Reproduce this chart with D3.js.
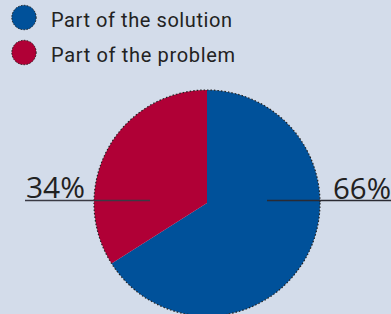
<!DOCTYPE html>
<html><head><meta charset="utf-8">
<script src="https://cdn.jsdelivr.net/npm/d3@7"></script>
<style>html,body{margin:0;padding:0;background:#d3dcea;overflow:hidden}</style>
</head><body><svg id="c" width="391" height="314"></svg>
<script>
const categories = ["Part of the solution", "Part of the problem"];
const values = [66, 34];
const colors = ["#00519a", "#b00036"];
const labels = ["66%", "34%"];

const svg = d3.select("#c");
const font = "'Open Sans', Roboto, sans-serif";
const legendFont = "Roboto, 'Open Sans', sans-serif";

// legend
const legendWidths = [181, 184];
const lg = svg.append("g");
categories.forEach((c, i) => {
  const y = 17.5 + i * 35;
  lg.append("circle").attr("cx", 24).attr("cy", y).attr("r", 12.2)
    .attr("fill", colors[i]).attr("stroke", "#222").attr("stroke-width", 1)
    .attr("stroke-dasharray", "1.5,1.5");
  lg.append("text").attr("x", 51).attr("y", y + 9).text(c)
    .attr("font-family", legendFont).attr("font-size", 20)
    .attr("textLength", legendWidths[i]).attr("lengthAdjust", "spacing")
    .attr("fill", "#222");
});

// pie
const cx = 207, cy = 203, r = 113;
const pie = d3.pie().sort(null).value(d => d)
  .startAngle(0).endAngle(2 * Math.PI);
const arcs = pie(values);
const arc = d3.arc().innerRadius(0).outerRadius(r);
const g = svg.append("g").attr("transform", `translate(${cx},${cy})`);
g.selectAll("path").data(arcs).join("path")
  .attr("d", arc).attr("fill", (d, i) => colors[i]);
g.append("circle").attr("r", r).attr("fill", "none")
  .attr("stroke", "#222").attr("stroke-width", 1.2).attr("stroke-dasharray", "1.5,2");

// label lines
const ly = 200.5;
svg.append("line").attr("x1", 267).attr("x2", 391).attr("y1", ly).attr("y2", ly)
  .attr("stroke", "#2a2a33").attr("stroke-width", 1.6);
svg.append("line").attr("x1", 25).attr("x2", 150).attr("y1", ly).attr("y2", ly)
  .attr("stroke", "#3a3a44").attr("stroke-width", 1.6);

svg.append("text").attr("x", 333).attr("y", 198.5).text(labels[0])
  .attr("font-family", font).attr("font-size", 30)
  .attr("textLength", 58).attr("lengthAdjust", "spacingAndGlyphs").attr("fill", "#222");
svg.append("text").attr("x", 26).attr("y", 198).text(labels[1])
  .attr("font-family", font).attr("font-size", 30)
  .attr("textLength", 59).attr("lengthAdjust", "spacingAndGlyphs").attr("fill", "#222");
</script></body></html>
